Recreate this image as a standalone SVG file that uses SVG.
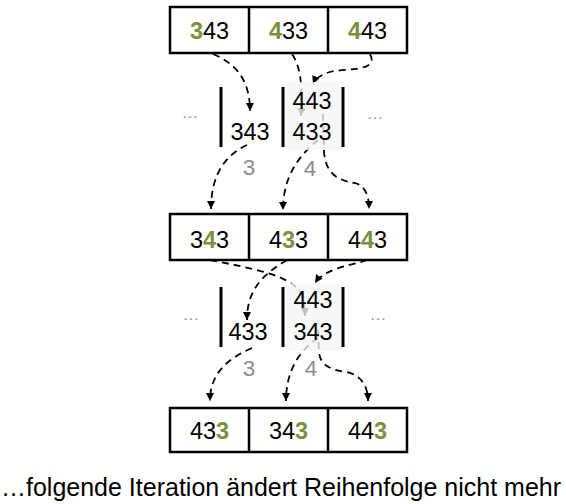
<svg xmlns="http://www.w3.org/2000/svg" width="566" height="504" viewBox="0 0 566 504">
<defs>
<marker id="ah" markerUnits="userSpaceOnUse" markerWidth="9" markerHeight="9" refX="8" refY="4" orient="auto">
<path d="M0,0 L8,4 L0,8 z" fill="#000"/>
</marker>
<style>
.cell{fill:#fff;stroke:#000;stroke-width:2.5}
.t{font-family:"Liberation Sans",Arial,sans-serif;font-size:23.5px;fill:#000;text-anchor:middle}
.g{fill:#76923c;font-weight:bold}
.lbl{font-family:"Liberation Sans",Arial,sans-serif;font-size:22.5px;fill:#8c8c8c;text-anchor:middle}
.dots{font-family:"Liberation Sans",Arial,sans-serif;font-size:17px;fill:#999;text-anchor:middle}
.bar{stroke:#000;stroke-width:3}
.shade{fill:#f6f6f6;fill-opacity:0.78}
.arr{fill:none;stroke:#000;stroke-width:1.8;stroke-dasharray:7,5;marker-end:url(#ah)}
.cap{font-family:"Liberation Sans",Arial,sans-serif;font-size:25px;fill:#000}
</style>
</defs>
<rect width="566" height="504" fill="#fff"/>

<g id="connectors">
<path class="arr" d="M213 54 C240 65,250 85,250 111"/>
<path class="arr" d="M292 54 C300 65,303 85,301 116"/>
<path class="arr" d="M370 54 C380 72,345 68,330 72 C320 75,315 79,313 84"/>
<path class="arr" d="M247 145 C225 155,211 175,211 209"/>
<path class="arr" d="M318 140 C300 155,283 175,283 210"/>
<path class="arr" d="M323 114 L324 152 C326 172,335 180,355 183 C365 186,369 195,369 209"/>
<path class="arr" d="M210 260 C250 268,290 275,300 292 C304 300,305 308,305 316"/>
<path class="arr" d="M287 260 C262 275,247 290,247 320"/>
<path class="arr" d="M367 260 C350 266,325 268,315 283"/>
<path class="arr" d="M252 348 C225 360,210 375,210 401"/>
<path class="arr" d="M318 338 C300 350,286 370,286 401"/>
<path class="arr" d="M318 330 L319 352 C320 365,330 370,347 372 C360 375,368 385,368 401"/>
</g>

<g id="row1">
<rect class="cell" x="170" y="7" width="237" height="46"/>
<line class="bar" x1="249" y1="7" x2="249" y2="53" style="stroke-width:2.5"/>
<line class="bar" x1="328" y1="7" x2="328" y2="53" style="stroke-width:2.5"/>
<text class="t" x="209.5" y="39"><tspan class="g">3</tspan>43</text>
<text class="t" x="288.5" y="39"><tspan class="g">4</tspan>33</text>
<text class="t" x="367.5" y="39"><tspan class="g">4</tspan>43</text>
</g>

<g id="buckets1">
<rect class="shade" x="285" y="82" width="57" height="68"/>
<line class="bar" x1="221" y1="87" x2="221" y2="147"/>
<line class="bar" x1="283" y1="87" x2="283" y2="147"/>
<line class="bar" x1="343" y1="87" x2="343" y2="147"/>
<text class="dots" x="190" y="118">…</text>
<text class="dots" x="375" y="119">…</text>
<text class="t" x="250" y="140">343</text>
<text class="t" x="312" y="109">443</text>
<text class="t" x="312" y="140">433</text>
<text class="lbl" x="249" y="175">3</text>
<text class="lbl" x="310" y="176">4</text>
</g>

<g id="row2">
<rect class="cell" x="170" y="214" width="237" height="46"/>
<line class="bar" x1="249" y1="214" x2="249" y2="260" style="stroke-width:2.5"/>
<line class="bar" x1="328" y1="214" x2="328" y2="260" style="stroke-width:2.5"/>
<text class="t" x="209.5" y="248">3<tspan class="g">4</tspan>3</text>
<text class="t" x="288.5" y="248">4<tspan class="g">3</tspan>3</text>
<text class="t" x="367.5" y="248">4<tspan class="g">4</tspan>3</text>
</g>

<g id="buckets2">
<rect class="shade" x="286" y="283" width="56" height="68"/>
<line class="bar" x1="221" y1="287" x2="221" y2="347"/>
<line class="bar" x1="283" y1="287" x2="283" y2="347"/>
<line class="bar" x1="343" y1="287" x2="343" y2="347"/>
<text class="dots" x="191" y="320">…</text>
<text class="dots" x="378" y="320">…</text>
<text class="t" x="248" y="340">433</text>
<text class="t" x="313" y="308">443</text>
<text class="t" x="313" y="340">343</text>
<text class="lbl" x="249" y="376">3</text>
<text class="lbl" x="311" y="376">4</text>
</g>

<g id="row3">
<rect class="cell" x="170" y="408" width="237" height="44"/>
<line class="bar" x1="249" y1="408" x2="249" y2="452" style="stroke-width:2.5"/>
<line class="bar" x1="328" y1="408" x2="328" y2="452" style="stroke-width:2.5"/>
<text class="t" x="209.5" y="439">43<tspan class="g">3</tspan></text>
<text class="t" x="288.5" y="439">34<tspan class="g">3</tspan></text>
<text class="t" x="367.5" y="439">44<tspan class="g">3</tspan></text>
</g>

<g id="caption">
<text class="cap" x="1" y="496">…folgende Iteration ändert Reihenfolge nicht mehr</text>
</g>
</svg>
